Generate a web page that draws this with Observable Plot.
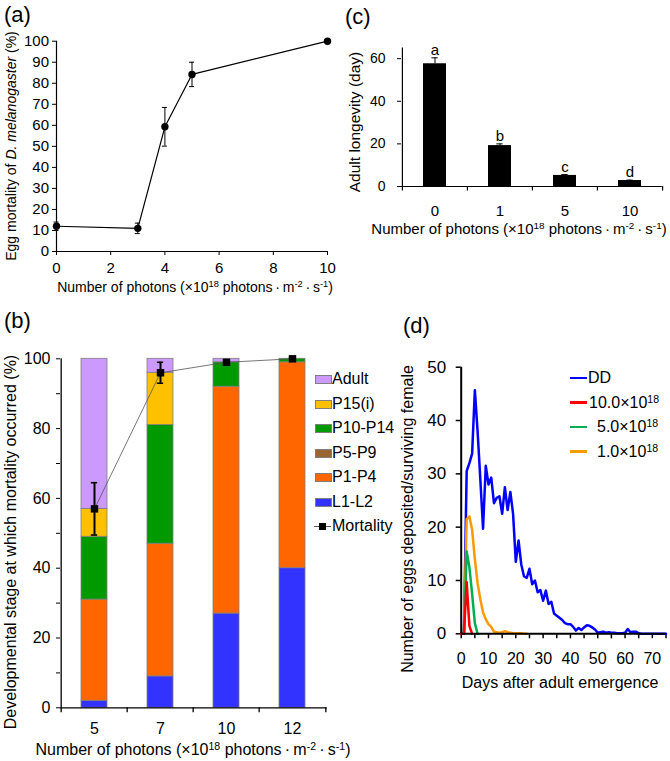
<!DOCTYPE html>
<html><head><meta charset="utf-8">
<script src="https://cdn.jsdelivr.net/npm/d3@7"></script>
<script src="https://cdn.jsdelivr.net/npm/@observablehq/plot@0.6"></script>
<style>
body{margin:0;background:#fff;}
#fig{position:relative;width:670px;height:761px;font-family:"Liberation Sans",Arial,sans-serif;color:#000;background:#fff;overflow:hidden}
.t{position:absolute;white-space:nowrap;line-height:1}
.t sup{font-size:0.66em;line-height:0;vertical-align:0.5em}
.sw{position:absolute}
</style></head><body><div id="fig"></div>
<script>
// ---------- (a) egg mortality ----------
const aPhotons = [0, 3, 4, 5, 10];
const aMortality = [12, 11, 59.3, 84.2, 100];
const aError = [2, 2.5, 9.2, 5.8, 0];
const aXTicks = [0, 2, 4, 6, 8, 10];
const aYTicks = [0, 10, 20, 30, 40, 50, 60, 70, 80, 90, 100];

// ---------- (b) developmental stage ----------
const bPhotons = ["5", "7", "10", "12"];
const bStages = ["L1-L2", "P1-P4", "P5-P9", "P10-P14", "P15(i)", "Adult"];
const bColors = ["#3333FF", "#FF6600", "#996633", "#009900", "#FFC000", "#CC99FF"];
const bL1L2 = [2, 9, 27, 40];
const bP1P4 = [29, 38, 65, 59];
const bP5P9 = [0, 0, 0, 0];
const bP10P14 = [18, 34, 7, 1];
const bP15i = [8, 15, 0, 0];
const bAdult = [43, 4, 1, 0];
const bMortality = [57, 96, 99, 100];
const bMortalityErr = [7.5, 3, 0.6, 0.4];
const bYTicks = [0, 10, 20, 30, 40, 50, 60, 70, 80, 90, 100];
const bLegend = ["Adult", "P15(i)", "P10-P14", "P5-P9", "P1-P4", "L1-L2"];

// ---------- (c) adult longevity ----------
const cPhotons = ["0", "1", "5", "10"];
const cLongevity = [57.6, 19.2, 5.2, 2.8];
const cError = [2.8, 0.8, 0.4, 0.2];
const cLetters = ["a", "b", "c", "d"];
const cYTicks = [0, 20, 40, 60];

// ---------- (d) eggs per surviving female ----------
const dDD = [0, 0, 30.5, 32, 33.8, 45.7, 38, 29, 19.7, 31.5,
  28, 29.3, 24.5, 25.5, 25.8, 22.5, 27.5, 23.2, 26.6, 22.5,
  13.5, 17.5, 13, 10.8, 10.5, 12.2, 9.3, 10, 7.8, 8.2,
  6.2, 8.1, 5.6, 6, 3.8, 3.4, 3, 2.6, 2, 1.8,
  1.8, 1.3, 0.6, 1.1, 0.7, 1.2, 1.6, 1.5, 1.2, 0.8,
  0.2, 0.3, 0.4, 0.2, 0.3, 0.2, 0.2, 0.1, 0.1, 0.1,
  0.2, 0.9, 0.3, 0.4, 0.4, 0.1, 0, 0, 0, 0,
  0, 0, 0, 0, 0, 0];
const d10 = [0, 0, 9.7, 1.5, 0];
const d5 = [0, 0, 15.5, 12.5, 7.5, 2, 0];
const d1 = [0, 0, 21.5, 22, 19.5, 14, 9.5, 6.5, 4, 2.7,
  1.8, 1.3, 0.4, 0.3, 0.2, 0.3, 0.5, 0.3, 0.2, 0.1,
  0.1, 0.1, 0.1, 0, 0];
const dNames = ["DD", "10.0×10<sup>18</sup>", "5.0×10<sup>18</sup>", "1.0×10<sup>18</sup>"];
const dColors = ["#0000FF", "#FF0000", "#00B050", "#FF9900"];
const dXTicks = [0, 5, 10, 15, 20, 25, 30, 35, 40, 45, 50, 55, 60, 65, 70, 75];
const dYTicks = [0, 10, 20, 30, 40, 50];

const FONT = '"Liberation Sans", Arial, sans-serif';
const fig = document.getElementById("fig");
const photonTitle = "Number of photons (×10<sup>18</sup> photons\u2009·\u2009m<sup>-2</sup>\u2009·\u2009s<sup>-1</sup>)";

function st(fs) {
  return {fontFamily: FONT, fontSize: fs + "px", color: "#000", background: "transparent", overflow: "visible"};
}
function put(svg, left, top) {
  svg.style.position = "absolute";
  svg.style.left = left + "px";
  svg.style.top = top + "px";
  fig.appendChild(svg);
}
function txt(html, x, y, size, opt = {}) {
  const d = document.createElement("div");
  d.className = "t";
  d.innerHTML = html;
  d.style.fontSize = size + "px";
  d.style.left = x + "px";
  d.style.top = y + "px";
  const ax = opt.anchor === "middle" ? "-50%" : opt.anchor === "end" ? "-100%" : "0";
  d.style.transform = opt.rotate ? "translate(-50%,-50%) rotate(-90deg)" : `translate(${ax},-50%)`;
  fig.appendChild(d);
}

// ======== (a) ========
{
  const data = aPhotons.map((x, i) => ({x, y: aMortality[i], e: aError[i]}));
  const eb = data.filter(d => d.e > 0);
  const p = Plot.plot({
    width: 340, height: 300, marginLeft: 56, marginRight: 13, marginTop: 40.7, marginBottom: 49,
    style: st(15),
    x: {domain: [0, 10]}, y: {domain: [0, 100]},
    marks: [
      Plot.axisY({ticks: aYTicks, tickSize: 4, tickPadding: 3.5, label: null}),
      Plot.axisX({ticks: aXTicks, tickSize: 4, tickPadding: 7, label: null}),
      Plot.ruleX([0], {strokeWidth: 1.2}),
      Plot.ruleY([0], {strokeWidth: 1.2}),
      Plot.line(data, {x: "x", y: "y", stroke: "#000", strokeWidth: 1.2}),
      Plot.ruleX(eb, {x: "x", y1: d => d.y - d.e, y2: d => d.y + d.e, strokeWidth: 1}),
      Plot.ruleY(eb, {y: d => d.y + d.e, x1: "x", x2: "x", insetLeft: -2.5, insetRight: -2.5, strokeWidth: 1}),
      Plot.ruleY(eb, {y: d => d.y - d.e, x1: "x", x2: "x", insetLeft: -2.5, insetRight: -2.5, strokeWidth: 1}),
      Plot.dot(data, {x: "x", y: "y", r: 3.7, fill: "#000"})
    ]
  });
  put(p, 0, 0);
  txt("(a)", 4, 15, 22);
  txt(photonTitle, 195, 287, 14, {anchor: "middle"});
  txt("Egg mortality of <i>D. melanogaster</i> (%)", 11, 145.5, 14, {rotate: true});
}

// ======== (c) ========
{
  const W = 330, ML = 61, MR = 8.3;
  const step = (W - ML - MR) / cPhotons.length;
  const pi = 0.652, bw = step * (1 - pi);
  const data = cPhotons.map((c, i) => ({c, v: cLongevity[i], e: cError[i], l: cLetters[i]}));
  const p = Plot.plot({
    width: W, height: 240, marginLeft: ML, marginRight: MR, marginTop: 47.5, marginBottom: 54,
    style: st(15),
    x: {domain: cPhotons, paddingInner: pi, paddingOuter: pi / 2},
    y: {domain: [0, 65]},
    marks: [
      Plot.barY(data, {x: "c", y: "v", fill: "#000"}),
      Plot.ruleX(data, {x: "c", y1: "v", y2: d => d.v + d.e, strokeWidth: 1}),
      Plot.tickY(data, {x: "c", y: d => d.v + d.e, insetLeft: bw / 2 - 3, insetRight: bw / 2 - 3, strokeWidth: 1}),
      Plot.text(data, {x: "c", y: d => d.v + d.e, text: "l", dy: -3, lineAnchor: "bottom", fontSize: 15}),
      Plot.axisY({ticks: cYTicks, tickSize: 4, tickPadding: 12, label: null, fontSize: 14}),
      Plot.axisX({tickSize: 0, tickPadding: 18.5, label: null, fontSize: 15}),
      Plot.ruleY([0], {strokeWidth: 1.2}),
      Plot.ruleX([cPhotons[0]], {dx: -step / 2, strokeWidth: 1.2}),
      Plot.ruleX(cPhotons, {dx: -step / 2, y1: 0, y2: 0, insetTop: 4.5, strokeWidth: 1.2}),
      Plot.ruleX([cPhotons[cPhotons.length - 1]], {dx: step / 2, y1: 0, y2: 0, insetTop: 4.5, strokeWidth: 1.2})
    ]
  });
  put(p, 340, 0);
  txt("(c)", 345, 17, 22);
  txt("Adult longevity (day)", 355, 121.7, 15.5, {rotate: true});
  txt(photonTitle, 519, 228, 15, {anchor: "middle"});
}

// ======== (b) ========
{
  const W = 380, ML = 60, MR = 53.3;
  const step = (W - ML - MR) / bPhotons.length;
  const pi = 0.6, bw = step * (1 - pi);
  const series = [bL1L2, bP1P4, bP5P9, bP10P14, bP15i, bAdult];
  const long = [];
  bStages.forEach((s, si) => bPhotons.forEach((c, ci) => {
    const v = series[si][ci];
    if (v > 0) long.push({c, s, v});
  }));
  const mort = bPhotons.map((c, i) => ({c, v: bMortality[i], e: bMortalityErr[i]}));
  const p = Plot.plot({
    width: W, height: 451, marginLeft: ML, marginRight: MR, marginTop: 48.3, marginBottom: 53.7,
    style: st(16),
    x: {domain: bPhotons, paddingInner: pi, paddingOuter: pi / 2},
    y: {domain: [0, 100]},
    color: {domain: bStages, range: bColors},
    marks: [
      Plot.barY(long, {x: "c", y: "v", fill: "s", stroke: "#7f7f7f", strokeWidth: 0.8}),
      Plot.axisY({ticks: bYTicks, tickSize: 4, tickPadding: 6, label: null, tickFormat: d => d % 20 === 0 ? d : ""}),
      Plot.axisX({tickSize: 0, tickPadding: 15, label: null}),
      Plot.ruleY([0], {strokeWidth: 1.3}),
      Plot.ruleX([bPhotons[0]], {dx: -step / 2, strokeWidth: 1.3}),
      Plot.ruleX(bPhotons, {dx: -step / 2, y1: 0, y2: 0, insetTop: 5, strokeWidth: 1.3}),
      Plot.ruleX([bPhotons[bPhotons.length - 1]], {dx: step / 2, y1: 0, y2: 0, insetTop: 5, strokeWidth: 1.3}),
      Plot.line(mort, {x: "c", y: "v", stroke: "#555", strokeWidth: 0.8}),
      Plot.ruleX(mort, {x: "c", y1: d => d.v - d.e, y2: d => d.v + d.e, strokeWidth: 2}),
      Plot.tickY(mort, {x: "c", y: d => d.v + d.e, insetLeft: bw / 2 - 3.5, insetRight: bw / 2 - 3.5, strokeWidth: 1.6}),
      Plot.tickY(mort, {x: "c", y: d => d.v - d.e, insetLeft: bw / 2 - 3.5, insetRight: bw / 2 - 3.5, strokeWidth: 1.6}),
      Plot.dot(mort, {x: "c", y: "v", symbol: "square", r: 4.2, fill: "#000"})
    ]
  });
  put(p, 0, 310);
  txt("(b)", 4, 321, 22);
  txt("Developmental stage at which mortality occurred (%)", 11, 541.5, 16, {rotate: true});
  txt(photonTitle, 193, 750, 16, {anchor: "middle"});
  // legend
  const rowY = [379, 403.5, 428, 452.5, 477, 501.5, 526];
  bLegend.forEach((name, i) => {
    const col = bColors[bStages.indexOf(name)];
    const s = document.createElement("div");
    s.className = "sw";
    Object.assign(s.style, {left: "315px", top: (rowY[i] - 4) + "px", width: "15px", height: "7px",
      background: col, border: "1px solid #7f7f7f"});
    fig.appendChild(s);
    txt(name, 332, rowY[i], 16);
  });
  const ln = document.createElement("div");
  ln.className = "sw";
  Object.assign(ln.style, {left: "314px", top: (rowY[6] - 0.5) + "px", width: "17px", height: "1px", background: "#555"});
  fig.appendChild(ln);
  const sq = document.createElement("div");
  sq.className = "sw";
  Object.assign(sq.style, {left: "319px", top: (rowY[6] - 3.5) + "px", width: "7px", height: "7px", background: "#000"});
  fig.appendChild(sq);
  txt("Mortality", 332, rowY[6], 16);
}

// ======== (d) ========
{
  const toRows = arr => arr.map((v, day) => ({day, v}));
  const p = Plot.plot({
    width: 290, height: 451, marginLeft: 80.7, marginRight: 4.5, marginTop: 56.7, marginBottom: 127.7,
    style: st(16),
    x: {domain: [0, 75]}, y: {domain: [0, 50]},
    marks: [
      Plot.axisY({ticks: dYTicks, tickSize: 5, tickPadding: 10, label: null, fontSize: 17, strokeWidth: 1.5}),
      Plot.axisX({ticks: dXTicks, tickSize: 5, tickPadding: 14, label: null, strokeWidth: 1.5,
        tickFormat: d => d % 10 === 0 ? d : ""}),
      Plot.line(toRows(dDD), {x: "day", y: "v", stroke: dColors[0], strokeWidth: 2.5, strokeLinejoin: "round"}),
      Plot.line(toRows(d1), {x: "day", y: "v", stroke: dColors[3], strokeWidth: 2.5, strokeLinejoin: "round"}),
      Plot.line(toRows(d5), {x: "day", y: "v", stroke: dColors[2], strokeWidth: 2.5, strokeLinejoin: "round"}),
      Plot.line(toRows(d10), {x: "day", y: "v", stroke: dColors[1], strokeWidth: 2.5, strokeLinejoin: "round"}),
      Plot.ruleX([0], {strokeWidth: 2}),
      Plot.ruleY([0], {strokeWidth: 2})
    ]
  });
  put(p, 380, 310);
  txt("(d)", 403, 326, 22);
  txt("Number of eggs deposited/surviving female", 408, 519, 16, {rotate: true});
  txt("Days after adult emergence", 560, 683, 16, {anchor: "middle"});
  const rowY = [378, 402.5, 427, 451.5];
  const textLeft = [588, 589, 597, 597];
  dNames.forEach((name, i) => {
    const s = document.createElement("div");
    s.className = "sw";
    Object.assign(s.style, {left: "570px", top: (rowY[i] - 1.25) + "px", width: "17px", height: "2.5px", background: dColors[i]});
    fig.appendChild(s);
    txt(name, textLeft[i], rowY[i], 16);
  });
}
</script></body></html>
